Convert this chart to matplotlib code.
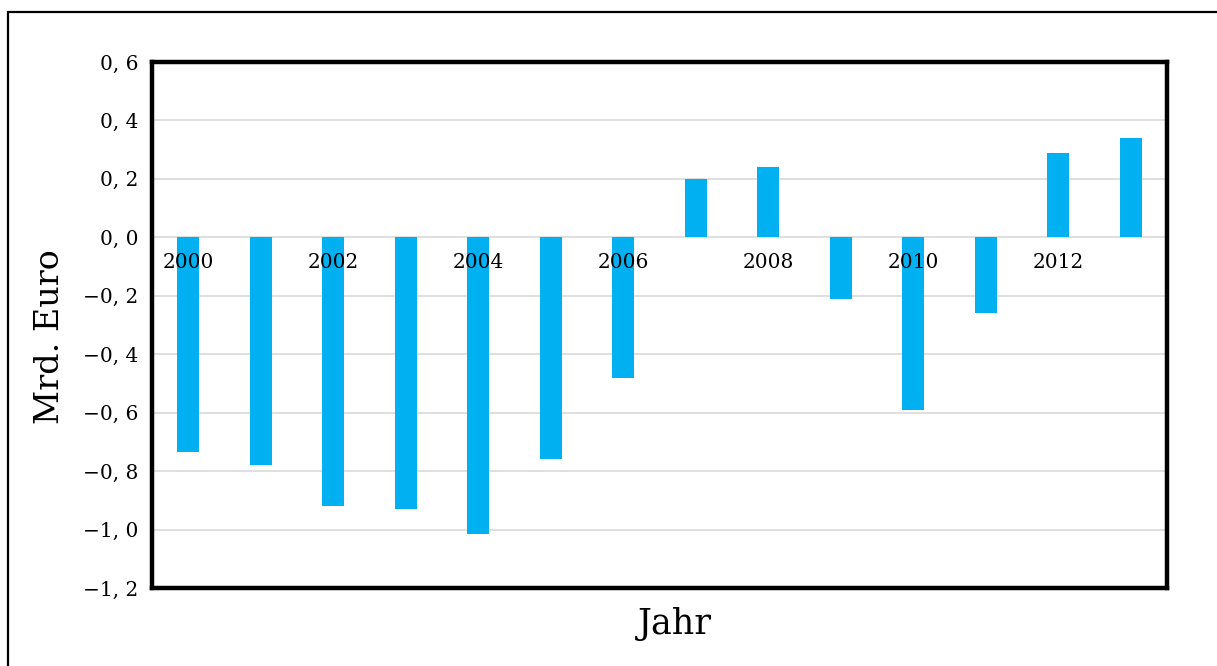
import matplotlib
matplotlib.use("Agg")
import matplotlib.pyplot as plt
from matplotlib.patches import Rectangle

years = [2000, 2001, 2002, 2003, 2004, 2005, 2006, 2007, 2008, 2009, 2010, 2011, 2012, 2013]
values = [-0.735, -0.78, -0.92, -0.93, -1.015, -0.76, -0.48, 0.20, 0.24, -0.21, -0.59, -0.26, 0.29, 0.34]
y_ticks = [-1.2, -1.0, -0.8, -0.6, -0.4, -0.2, 0.0, 0.2, 0.4, 0.6]

W, H = 1217, 666
fig = plt.figure(figsize=(W / 100, H / 100), dpi=100)
fig.patch.set_facecolor("white")

# outer frame (runs past the right and bottom edges)
fig.add_artist(Rectangle((8 / W, -20 / H), (W + 10) / W, (H + 8) / H, transform=fig.transFigure,
                         fill=False, edgecolor="black", linewidth=1.6, clip_on=False))

ax = fig.add_axes([152 / W, (H - 588) / H, (1167 - 152) / W, (588 - 62) / H])
xs = list(range(len(years)))
ax.bar(xs, values, width=0.31, color="#00B0F0", zorder=3)

ax.set_xlim(-0.5, len(years) - 0.5)
ax.set_ylim(-1.2, 0.6)
ax.set_yticks(y_ticks)
ax.set_yticklabels([("−" if t < 0 else "") + f"{abs(t):.1f}".replace(".", ", ") for t in y_ticks],
                   family="DejaVu Serif", fontsize=14.5)
ax.tick_params(axis="y", length=0, pad=10)
ax.set_xticks([])
ax.grid(axis="y", color="#d9d9d9", linewidth=1.2, zorder=0)

for s in ax.spines.values():
    s.set_linewidth(3.2)
    s.set_color("black")

# year labels next to the zero line
for x, yr in zip(xs, years):
    if yr % 2 == 0:
        ax.text(x, -0.055, str(yr), ha="center", va="top", family="DejaVu Serif",
                fontsize=14.5, zorder=4)

fig.text(50 / W, 1 - 337 / H, "Mrd. Euro", rotation=90, ha="center", va="center",
         family="DejaVu Serif", fontsize=24)
fig.text(675 / W, 1 - 624 / H, "Jahr", ha="center", va="center",
         family="DejaVu Serif", fontsize=25)

fig.savefig("out.png", dpi=100)
